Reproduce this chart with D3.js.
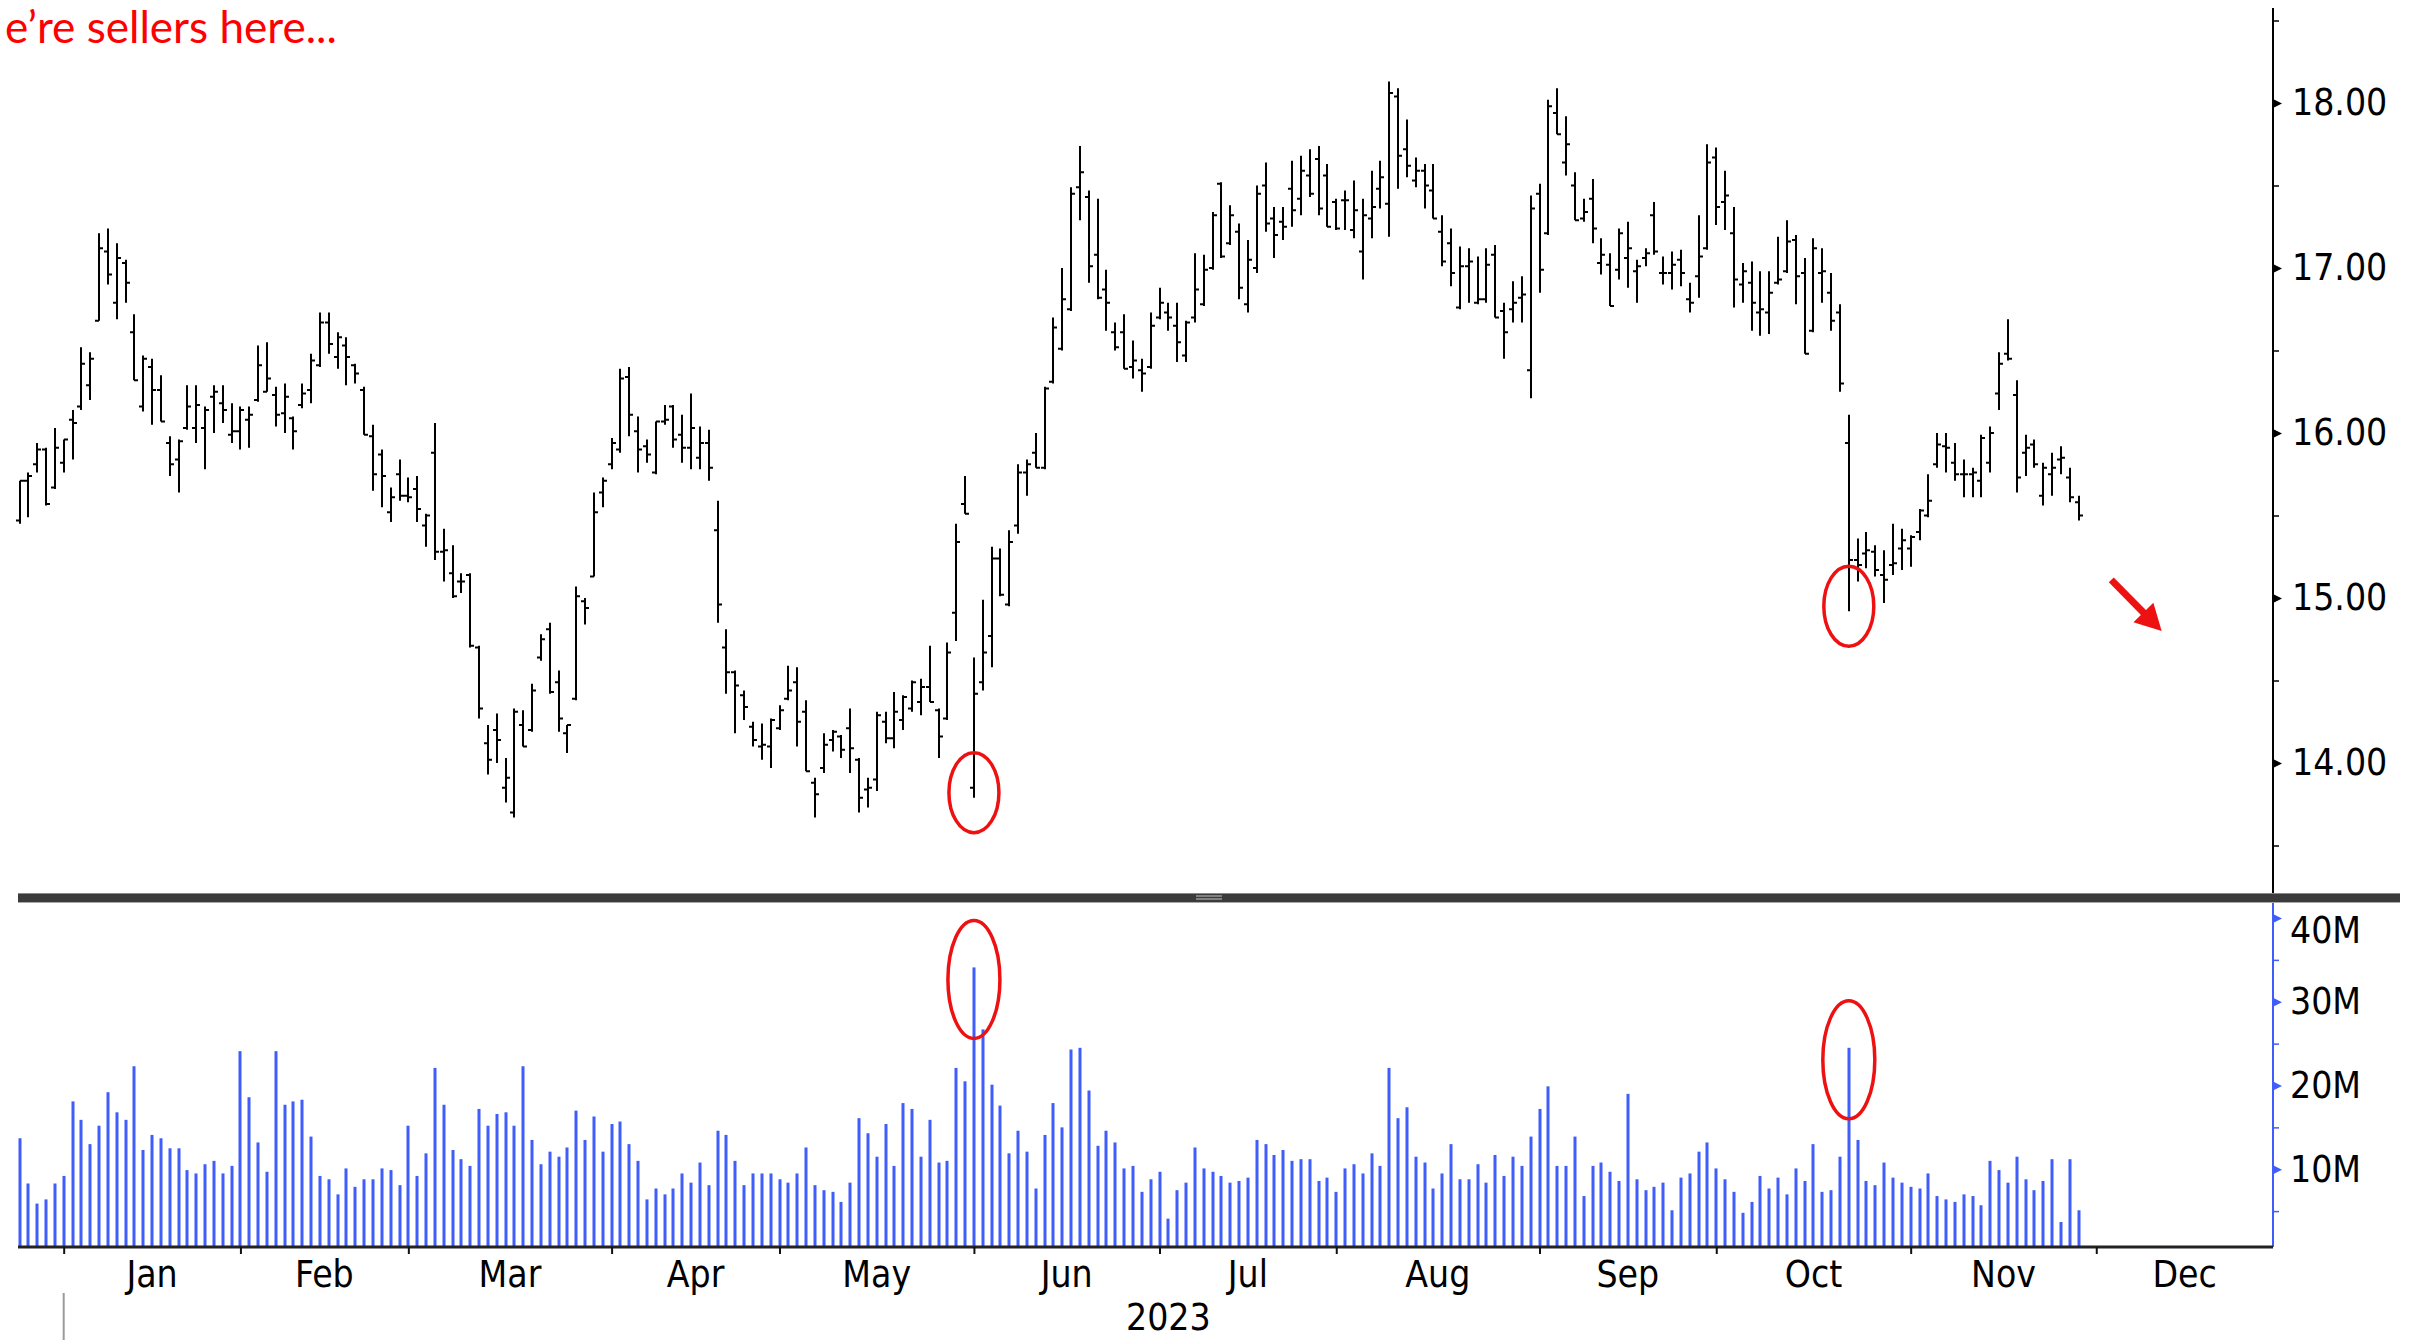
<!DOCTYPE html>
<html>
<head>
<meta charset="utf-8">
<script src="https://cdn.jsdelivr.net/npm/d3@7"></script>
<style>
  body { margin: 0; background: #fff; }
  svg { display: block; }
  .lbl { font-family: "DejaVu Sans Condensed", "DejaVu Sans", sans-serif; font-stretch: condensed; }
</style>
</head>
<body>
<svg id="chart" width="2420" height="1340"></svg>
<script>
// month buckets of trading sessions (first one = tail of Dec 2022)
const monthNames = ["", "Jan", "Feb", "Mar", "Apr", "May", "Jun", "Jul", "Aug", "Sep", "Oct", "Nov", "Dec"];
const monthDays = [6, 20, 19, 23, 19, 22, 21, 20, 23, 20, 22, 21, 20];
const yearLabel = "2023";

const priceTicks = [14, 15, 16, 17, 18];
const priceMinor = [13.5, 14.5, 15.5, 16.5, 17.5, 18.5];
const volTicks = [10, 20, 30, 40];
const volMinor = [5, 15, 25, 35];

// daily OHLC, Dec-22 tail .. Nov-23
const openPx = [
  15.47,15.71,15.81,15.90,15.67,15.82,
  16.08,16.16,16.29,16.68,17.10,16.79,17.03,16.61,16.16,16.40,16.26,15.94,15.84,16.03,16.03,16.03,16.22,16.18,15.99,16.01,
  16.08,16.20,16.25,16.23,16.12,16.09,16.17,16.26,16.41,16.67,16.46,16.53,16.41,16.26,15.98,15.87,15.52,15.75,15.62,
  15.66,15.44,15.88,15.28,15.15,15.10,15.14,14.70,14.12,14.20,13.85,13.70,14.23,14.20,14.64,14.81,14.49,14.18,14.39,14.98,15.13,15.64,15.81,
  15.90,16.34,16.01,15.92,15.76,16.07,16.16,15.99,15.91,15.85,15.94,15.41,14.70,14.55,14.41,14.22,14.10,14.10,14.21,
  14.39,14.49,14.31,13.88,13.97,14.14,14.16,14.21,14.02,13.84,13.90,14.25,14.15,14.26,14.33,14.37,14.46,14.32,14.27,14.91,15.57,13.85,
  14.49,14.77,15.24,14.96,15.44,15.76,15.88,15.79,16.31,16.51,16.75,17.49,17.43,17.08,16.87,16.61,16.61,16.40,16.38,16.40,16.70,
  16.73,16.65,16.47,16.70,16.78,17.00,17.51,17.15,17.22,16.78,17.00,17.50,17.30,17.28,17.48,17.42,17.56,17.66,17.56,17.40,
  17.41,17.23,17.10,17.30,17.48,17.39,18.04,17.72,17.53,17.59,17.47,17.22,17.15,16.76,17.01,16.79,16.81,17.08,16.74,16.75,16.82,16.38,17.45,
  17.21,17.94,17.64,17.50,17.30,17.42,17.03,17.02,16.99,17.06,16.98,17.06,17.32,16.97,16.97,17.05,16.81,16.95,17.12,17.67,
  17.40,17.21,16.90,16.91,16.73,16.73,16.91,16.98,17.17,16.97,16.62,16.97,16.85,16.73,15.94,15.23,15.27,15.28,15.14,15.20,15.30,15.30,
  15.40,15.50,15.81,15.92,15.82,15.75,15.75,15.71,15.82,16.24,16.48,16.23,15.88,15.93,15.62,15.75,15.84,15.73,15.58
];
const highPx = [
  15.71,15.76,15.94,15.91,16.03,15.96,
  16.14,16.52,16.49,17.21,17.24,17.15,17.05,16.72,16.47,16.45,16.35,15.98,15.96,16.29,16.29,16.16,16.29,16.29,16.18,16.16,
  16.16,16.53,16.55,16.28,16.30,16.10,16.30,16.48,16.73,16.73,16.61,16.58,16.42,16.28,16.05,15.90,15.67,15.84,15.73,
  15.74,15.51,16.06,15.42,15.32,15.15,15.15,14.71,14.23,14.30,14.03,14.33,14.32,14.48,14.78,14.85,14.56,14.23,15.07,15.00,15.64,15.73,15.97,
  16.39,16.40,16.10,15.96,16.07,16.17,16.17,16.11,16.24,16.04,16.02,15.59,14.81,14.56,14.44,14.25,14.24,14.27,14.35,
  14.59,14.58,14.38,13.91,14.18,14.20,14.17,14.33,14.03,13.91,14.31,14.31,14.43,14.41,14.50,14.51,14.71,14.33,14.73,15.45,15.74,14.64,
  14.99,15.31,15.30,15.41,15.81,15.84,16.00,16.28,16.70,17.00,17.49,17.74,17.47,17.42,16.99,16.67,16.72,16.56,16.45,16.73,16.88,
  16.79,16.79,16.68,17.09,17.08,17.34,17.52,17.38,17.27,17.17,17.50,17.64,17.37,17.37,17.65,17.68,17.72,17.74,17.63,17.42,
  17.47,17.53,17.42,17.59,17.65,18.13,18.09,17.90,17.67,17.63,17.63,17.32,17.24,17.13,17.12,17.07,17.12,17.14,16.79,16.92,16.95,17.44,17.51,
  18.02,18.09,17.92,17.58,17.42,17.54,17.18,17.09,17.24,17.28,17.05,17.12,17.40,17.07,17.10,17.11,16.91,17.32,17.75,17.73,
  17.59,17.37,17.03,17.04,16.98,16.98,17.19,17.29,17.20,17.06,17.18,17.12,16.97,16.78,16.11,15.36,15.40,15.32,15.29,15.45,15.42,15.38,
  15.54,15.75,16.00,16.00,15.94,15.84,15.79,15.99,16.04,16.49,16.69,16.32,15.99,15.96,15.82,15.88,15.92,15.79,15.62
];
const lowPx = [
  15.45,15.49,15.76,15.56,15.66,15.76,
  15.84,16.14,16.20,16.68,16.90,16.69,16.79,16.32,16.13,16.05,16.07,15.74,15.64,16.02,15.94,15.78,16.00,16.06,15.94,15.90,
  15.91,16.19,16.25,16.04,16.00,15.90,16.15,16.18,16.40,16.48,16.39,16.29,16.30,15.99,15.65,15.55,15.46,15.59,15.58,
  15.46,15.31,15.23,15.10,15.00,15.03,14.70,14.27,13.93,14.00,13.76,13.67,14.10,14.19,14.62,14.42,14.19,14.06,14.38,14.84,15.13,15.55,15.78,
  15.88,15.98,15.76,15.82,15.75,16.05,15.91,15.82,15.78,15.78,15.71,14.85,14.42,14.18,14.26,14.10,14.02,13.97,14.20,
  14.38,14.10,13.95,13.67,13.94,14.07,14.03,13.94,13.70,13.73,13.83,14.12,14.09,14.20,14.31,14.29,14.37,14.03,14.26,14.74,15.51,13.79,
  14.44,14.58,15.01,14.95,15.39,15.62,15.79,15.78,16.30,16.50,16.74,17.29,16.91,16.81,16.62,16.50,16.39,16.33,16.25,16.39,16.69,
  16.62,16.43,16.43,16.67,16.77,16.99,17.06,17.14,16.81,16.73,16.97,17.22,17.06,17.17,17.25,17.32,17.43,17.32,17.25,17.23,
  17.23,17.18,16.93,17.18,17.36,17.19,17.48,17.55,17.49,17.36,17.30,17.01,16.89,16.75,16.79,16.78,16.79,16.70,16.45,16.67,16.67,16.21,16.85,
  17.20,17.81,17.56,17.29,17.28,17.15,16.96,16.77,16.93,16.88,16.79,17.01,17.08,16.90,16.87,16.89,16.73,16.82,17.11,17.26,
  17.23,16.76,16.79,16.62,16.59,16.60,16.90,16.97,16.78,16.48,16.61,16.79,16.62,16.25,14.92,15.10,15.18,15.13,14.97,15.14,15.17,15.19,
  15.35,15.49,15.79,15.76,15.71,15.61,15.61,15.61,15.76,16.14,16.44,15.64,15.74,15.79,15.56,15.62,15.75,15.58,15.47
];
const closePx = [
  15.71,15.74,15.90,15.57,15.91,15.96,
  16.06,16.42,16.45,17.12,16.96,17.06,16.91,16.32,16.45,16.26,16.07,15.81,15.95,16.16,16.17,16.14,16.25,16.14,16.01,16.14,
  16.11,16.41,16.33,16.11,16.22,16.01,16.24,16.44,16.67,16.54,16.58,16.46,16.36,15.99,15.75,15.74,15.61,15.62,15.61,
  15.54,15.50,15.28,15.29,15.01,15.10,14.71,14.33,14.02,14.14,13.91,14.31,14.10,14.44,14.75,14.43,14.27,14.23,15.01,14.94,15.52,15.71,15.94,
  16.33,16.11,15.90,15.87,16.07,16.08,15.96,15.91,16.03,15.94,15.79,14.96,14.55,14.47,14.34,14.14,14.11,14.26,14.32,
  14.44,14.25,13.95,13.81,14.11,14.19,14.08,14.09,13.79,13.85,14.29,14.15,14.31,14.40,14.49,14.46,14.37,14.16,14.67,15.34,15.51,14.42,
  14.67,15.24,15.02,15.34,15.76,15.81,15.79,16.27,16.64,16.81,17.45,17.58,17.01,16.82,16.79,16.52,16.39,16.44,16.36,16.65,16.79,
  16.70,16.55,16.67,16.87,16.99,17.32,17.07,17.32,16.88,17.05,17.45,17.27,17.20,17.25,17.35,17.59,17.45,17.36,17.25,17.24,
  17.41,17.35,17.32,17.37,17.55,18.06,17.68,17.62,17.59,17.50,17.30,17.04,16.97,17.01,17.04,16.81,17.02,16.70,16.61,16.79,16.84,17.36,16.99,
  17.98,17.81,17.75,17.29,17.34,17.24,17.08,16.77,17.21,17.12,17.01,17.09,17.10,16.97,17.02,16.97,16.79,17.07,17.64,17.37,
  17.44,16.93,16.98,16.79,16.75,16.85,16.93,17.16,16.95,16.48,17.12,16.98,16.68,16.30,15.23,15.20,15.29,15.17,15.11,15.21,15.35,15.37,
  15.53,15.59,15.93,15.91,15.75,15.75,15.76,15.97,16.00,16.42,16.45,15.73,15.91,15.81,15.79,15.79,15.85,15.61,15.50
];
// volume, millions of shares
const volumeM = [
  13.7,8.3,5.9,6.4,8.3,9.2,
  18.1,15.9,13.0,15.2,19.2,16.8,15.9,22.3,12.3,14.1,13.7,12.5,12.5,9.9,9.5,10.6,11.0,9.5,10.4,24.1,
  18.6,13.2,9.7,24.1,17.7,18.1,18.3,13.9,9.2,8.8,7.0,10.1,7.9,8.8,8.8,10.1,9.9,8.1,15.2,
  9.2,11.9,22.1,17.7,12.3,11.2,10.4,17.2,15.2,16.6,16.8,15.2,22.3,13.5,10.6,12.1,11.5,12.6,17.0,13.5,16.3,12.1,15.4,
  15.7,13.0,11.0,6.4,7.7,7.0,7.7,9.5,8.4,10.8,8.1,14.6,14.1,11.0,8.1,9.5,9.5,9.5,8.8,
  8.4,9.5,12.6,8.1,7.5,7.3,6.1,8.4,16.1,14.3,11.5,15.4,10.4,17.9,17.2,11.5,15.9,10.8,11.0,22.1,20.5,34.1,
  26.7,20.1,17.6,11.9,14.6,12.1,7.7,14.1,17.9,15.0,24.3,24.5,19.4,12.8,14.6,13.2,10.1,10.4,7.3,8.8,9.7,
  4.1,7.5,8.4,12.6,10.1,9.7,9.2,8.4,8.6,9.0,13.5,13.0,11.7,12.3,11.0,11.2,11.2,8.6,9.0,7.3,
  10.1,10.6,9.5,11.9,10.4,22.1,16.1,17.4,11.5,10.8,7.7,9.5,13.0,8.8,8.8,10.6,8.4,11.7,9.2,11.5,10.4,13.9,17.2,
  19.9,10.4,10.4,13.9,6.8,10.4,10.8,9.7,8.6,19.0,8.8,7.5,7.9,8.4,5.1,9.0,9.5,12.1,13.2,10.1,
  8.8,7.3,4.8,6.1,9.2,7.7,9.0,7.0,10.1,8.6,13.0,7.3,7.5,11.5,24.5,13.5,8.6,8.1,10.8,9.0,8.4,7.9,
  7.7,9.5,6.8,6.4,6.1,7.0,6.8,5.7,11.0,9.9,8.4,11.5,8.8,7.5,8.6,11.2,3.7,11.2,5.1
];

// annotations: bars circled (index into the series) and the trend arrow
const circledBars = [108, 207];
const arrowFrom = { i: 236.7, p: 15.11 };
const arrowTo = { i: 242.4, p: 14.80 };
const noteText = "e\u2019re sellers here...";

const W = 2420, H = 1340;
const svg = d3.select("#chart");
const nSlots = d3.sum(monthDays) - 1;   // last slot sits on the axis

const x = d3.scaleLinear().domain([0, nSlots]).range([19.5, 2273]);
const yPx = d3.scaleLinear().domain([13, 19]).range([928, -62]);
const yVol = d3.scaleLinear().domain([0, 40]).range([1253, 918]);

const axisX = x(nSlots);
const priceTop = 8, priceBottom = 893, volTop = 903, baseY = 1247;
const labelSize = 37;
const blue = "#3f5dfb";

svg.append("rect").attr("width", W).attr("height", H).attr("fill", "#fff");

svg.append("defs").append("clipPath").attr("id", "pclip")
  .append("rect").attr("x", 0).attr("y", priceTop).attr("width", axisX).attr("height", priceBottom - priceTop);

const bars = openPx.map((o, i) => ({ i, o, h: highPx[i], l: lowPx[i], c: closePx[i], v: volumeM[i] }));

// price bars
svg.append("g").attr("clip-path", "url(#pclip)")
  .selectAll("path")
  .data(bars)
  .enter()
  .append("path")
  .attr("fill", "none")
  .attr("stroke", "#000")
  .attr("stroke-width", 2)
  .attr("d", d => {
    const cx = Math.round(x(d.i));
    return `M${cx},${yPx(d.h)}V${yPx(d.l)}M${cx - 4},${yPx(d.o)}H${cx}M${cx},${yPx(d.c)}H${cx + 4}`;
  });

// price axis
svg.append("line")
  .attr("x1", axisX).attr("x2", axisX).attr("y1", priceTop).attr("y2", priceBottom)
  .attr("stroke", "#000").attr("stroke-width", 2);

svg.append("g")
  .attr("transform", `translate(${axisX},0)`)
  .call(d3.axisRight(yPx).tickValues(priceMinor).tickSize(6).tickFormat(""))
  .call(g => g.select(".domain").remove())
  .call(g => g.selectAll("line").attr("stroke", "#000").attr("stroke-width", 1.5));

svg.append("g")
  .attr("transform", `translate(${axisX},0)`)
  .call(d3.axisRight(yPx).tickValues(priceTicks).tickSize(0).tickPadding(19).tickFormat(d3.format(".2f")))
  .call(g => g.select(".domain").remove())
  .call(g => g.selectAll("text").attr("class", "lbl").attr("fill", "#000")
    .style("font-size", labelSize + "px"))
  .call(g => g.selectAll(".tick").append("path").attr("d", "M0,-4.5L9,0L0,4.5Z").attr("fill", "#000"));

// panel separator
const sep = svg.append("g");
sep.append("rect").attr("x", 18).attr("y", priceBottom).attr("width", 2382).attr("height", volTop - priceBottom).attr("fill", "#3b3b3b");
sep.append("line").attr("x1", 18).attr("x2", 2400).attr("y1", priceBottom + 0.5).attr("y2", priceBottom + 0.5).attr("stroke", "#8a8a8a");
sep.append("line").attr("x1", 18).attr("x2", 2400).attr("y1", volTop - 0.5).attr("y2", volTop - 0.5).attr("stroke", "#a8a8a8");
[896, 899].forEach(yy => sep.append("line")
  .attr("x1", 1196).attr("x2", 1222).attr("y1", yy).attr("y2", yy)
  .attr("stroke", "#9a9a9a").attr("stroke-width", 1.5));

// volume bars
svg.append("g")
  .selectAll("rect")
  .data(bars)
  .enter()
  .append("rect")
  .attr("x", d => Math.round(x(d.i)) - 1.5)
  .attr("width", 3)
  .attr("y", d => yVol(d.v))
  .attr("height", d => baseY - yVol(d.v))
  .attr("fill", blue);

// volume axis
svg.append("line")
  .attr("x1", axisX).attr("x2", axisX).attr("y1", volTop).attr("y2", baseY)
  .attr("stroke", blue).attr("stroke-width", 2);

svg.append("g")
  .attr("transform", `translate(${axisX},0)`)
  .call(d3.axisRight(yVol).tickValues(volMinor).tickSize(6).tickFormat(""))
  .call(g => g.select(".domain").remove())
  .call(g => g.selectAll("line").attr("stroke", blue).attr("stroke-width", 1.5));

svg.append("g")
  .attr("transform", `translate(${axisX},0)`)
  .call(d3.axisRight(yVol).tickValues(volTicks).tickSize(0).tickPadding(17).tickFormat(d => d + "M"))
  .call(g => g.select(".domain").remove())
  .call(g => g.selectAll("text").attr("class", "lbl").attr("fill", "#000")
    .style("font-size", labelSize + "px")
    .attr("dy", d => d === 40 ? "0.66em" : "0.32em"))
  .call(g => g.selectAll(".tick").append("path").attr("d", "M0,-4.5L9,0L0,4.5Z").attr("fill", blue));

// time axis
const starts = [];
monthDays.reduce((acc, n) => { starts.push(acc); return acc + n; }, 0);
const bounds = starts.slice(1).map(s => s - 1);

svg.append("line")
  .attr("x1", 18).attr("x2", axisX).attr("y1", baseY).attr("y2", baseY)
  .attr("stroke", "#222").attr("stroke-width", 3);

svg.append("g")
  .attr("transform", `translate(0,${baseY})`)
  .call(d3.axisBottom(x).tickValues(bounds).tickSize(7).tickFormat(""))
  .call(g => g.select(".domain").remove())
  .call(g => g.selectAll("line").attr("stroke", "#111").attr("stroke-width", 2));

svg.append("g")
  .selectAll("text")
  .data(monthNames.slice(1).map((m, k) => ({ m, a: starts[k + 1] - 1, b: starts[k + 1] + monthDays[k + 1] - 1 })))
  .enter()
  .append("text")
  .attr("class", "lbl")
  .attr("x", d => (x(d.a) + x(Math.min(d.b, nSlots))) / 2)
  .attr("y", 1287)
  .attr("text-anchor", "middle")
  .style("font-size", labelSize + "px")
  .attr("fill", "#000")
  .text(d => d.m);

svg.append("line")
  .attr("x1", x(bounds[0])).attr("x2", x(bounds[0])).attr("y1", 1293).attr("y2", H)
  .attr("stroke", "#9a9a9a").attr("stroke-width", 2);

svg.append("text")
  .attr("class", "lbl")
  .attr("x", (x(bounds[0]) + axisX) / 2)
  .attr("y", 1330)
  .attr("text-anchor", "middle")
  .style("font-size", labelSize + "px")
  .attr("fill", "#000")
  .text(yearLabel);

// red annotations
const red = "#ee1111";
const ann = svg.append("g").attr("fill", "none").attr("stroke", red).attr("stroke-width", 3.5);
circledBars.forEach(i => {
  ann.append("ellipse").attr("cx", x(i)).attr("cy", yPx(lowPx[i]) - 5).attr("rx", 25).attr("ry", 40);
  ann.append("ellipse").attr("cx", x(i)).attr("cy", yVol(volumeM[i]) + 12).attr("rx", 26).attr("ry", 59);
});

const ax0 = x(arrowFrom.i), ay0 = yPx(arrowFrom.p), ax1 = x(arrowTo.i), ay1 = yPx(arrowTo.p);
const ang = Math.atan2(ay1 - ay0, ax1 - ax0);
const back = 20;
svg.append("line")
  .attr("x1", ax0).attr("y1", ay0)
  .attr("x2", ax1 - back * Math.cos(ang)).attr("y2", ay1 - back * Math.sin(ang))
  .attr("stroke", red).attr("stroke-width", 7);
const hw = 14;
svg.append("path")
  .attr("fill", red)
  .attr("d", `M${ax1},${ay1}` +
    `L${ax1 - 26 * Math.cos(ang) - hw * Math.sin(ang)},${ay1 - 26 * Math.sin(ang) + hw * Math.cos(ang)}` +
    `L${ax1 - 26 * Math.cos(ang) + hw * Math.sin(ang)},${ay1 - 26 * Math.sin(ang) - hw * Math.cos(ang)}Z`);

// note text, sized so it spans ~332px from near the left edge
const note = svg.append("text")
  .attr("font-family", "Lato, 'Open Sans', sans-serif")
  .attr("fill", "#ff0000")
  .attr("x", 5)
  .attr("y", 43)
  .attr("font-size", 40)
  .text(noteText);
const w0 = note.node().getComputedTextLength();
note.attr("font-size", 40 * 332 / w0);
</script>
</body>
</html>
